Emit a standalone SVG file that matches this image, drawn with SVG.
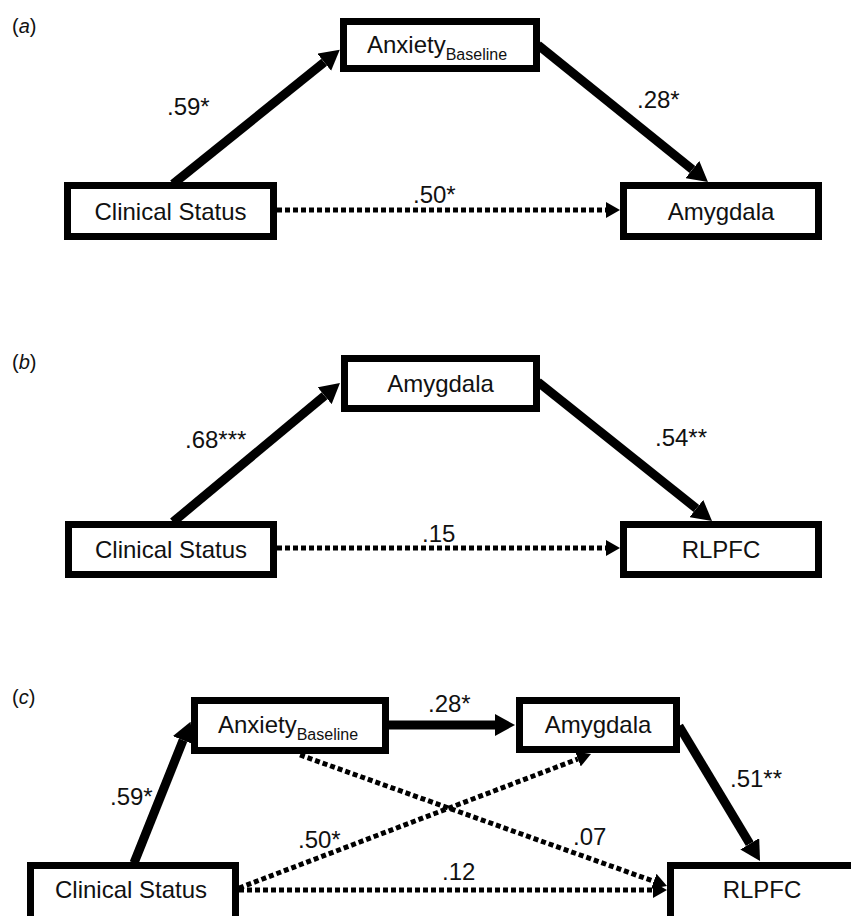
<svg xmlns="http://www.w3.org/2000/svg" width="851" height="916" viewBox="0 0 851 916">
<defs>
<style>
.box{fill:#fff;stroke:#000;stroke-width:7}
.t{font-family:"Liberation Sans",Arial,sans-serif;font-size:24px;fill:#111;text-anchor:middle}
.sub{font-size:16px}
.lbl{font-family:"Liberation Sans",Arial,sans-serif;font-size:24px;fill:#111}
.panel{font-family:"Liberation Sans",Arial,sans-serif;font-size:20px;fill:#111}
.solid{stroke:#000;stroke-width:9;fill:none;marker-end:url(#hs)}
.dot{stroke:#000;stroke-width:5;stroke-dasharray:5 3;fill:none;marker-end:url(#hd)}
</style>
<marker id="hs" markerUnits="userSpaceOnUse" markerWidth="20" markerHeight="22" refX="0" refY="11" orient="auto"><path d="M0,0 L20,11 L0,22 z" fill="#000"/></marker>
<marker id="hd" markerUnits="userSpaceOnUse" markerWidth="14" markerHeight="16" refX="0" refY="8" orient="auto"><path d="M0,0 L14,8 L0,16 z" fill="#000"/></marker>
</defs>
<rect width="851" height="916" fill="#fff"/>
<text class="panel" x="12" y="33">(<tspan font-style="italic">a</tspan>)</text>
<text class="panel" x="12" y="369">(<tspan font-style="italic">b</tspan>)</text>
<text class="panel" x="12" y="704">(<tspan font-style="italic">c</tspan>)</text>
<g id="connectors">
<line class="solid" x1="173" y1="184" x2="324.2" y2="62.3"/>
<line class="solid" x1="538" y1="45" x2="692.4" y2="169.5"/>
<line class="dot" x1="277" y1="210" x2="606" y2="210"/>
<line class="solid" x1="173" y1="522" x2="324.6" y2="395.7"/>
<line class="solid" x1="538" y1="382" x2="696.4" y2="508.5"/>
<line class="dot" x1="277" y1="548" x2="606" y2="548"/>
<line class="solid" x1="134" y1="863" x2="183.1" y2="740.2"/>
<line class="solid" x1="389" y1="725" x2="495" y2="725"/>
<line class="solid" x1="679" y1="726" x2="749.75" y2="843.8"/>
<line class="dot" x1="239" y1="890" x2="653" y2="890"/>
<line class="dot" x1="239" y1="888" x2="577.9" y2="759"/>
<line class="dot" x1="300" y1="755" x2="653.8" y2="881.3"/>
</g>
<g id="a-anxiety"><rect class="box" x="343.5" y="21.5" width="193" height="47"/><text class="t" x="437" y="53">Anxiety<tspan class="sub" dy="7">Baseline</tspan></text></g>
<g id="a-clinical"><rect class="box" x="67.5" y="185.5" width="206" height="51"/><text class="t" x="170.5" y="220">Clinical Status</text></g>
<g id="a-amygdala"><rect class="box" x="623.5" y="185.5" width="195" height="51"/><text class="t" x="721" y="220">Amygdala</text></g>
<g id="b-amygdala"><rect class="box" x="344.5" y="358.5" width="192" height="50"/><text class="t" x="440.5" y="392">Amygdala</text></g>
<g id="b-clinical"><rect class="box" x="68.5" y="524.5" width="205" height="50"/><text class="t" x="171" y="558">Clinical Status</text></g>
<g id="b-rlpfc"><rect class="box" x="623.5" y="524.5" width="195" height="50"/><text class="t" x="721" y="558">RLPFC</text></g>
<g id="c-anxiety"><rect class="box" x="194.5" y="700.5" width="191" height="50"/><text class="t" x="288" y="733">Anxiety<tspan class="sub" dy="7">Baseline</tspan></text></g>
<g id="c-amygdala"><rect class="box" x="519.5" y="700.5" width="157" height="49"/><text class="t" x="598" y="733">Amygdala</text></g>
<g id="c-clinical"><rect class="box" x="30.5" y="865.5" width="205" height="70"/><text class="t" x="131" y="898">Clinical Status</text></g>
<g id="c-rlpfc"><rect class="box" x="670.5" y="865.5" width="190" height="70"/><text class="t" x="762" y="898">RLPFC</text></g>
<g id="labels">
<text class="lbl" x="167" y="115">.59*</text>
<text class="lbl" x="637" y="108">.28*</text>
<text class="lbl" x="413" y="203">.50*</text>
<text class="lbl" x="185" y="448">.68***</text>
<text class="lbl" x="655" y="446">.54**</text>
<text class="lbl" x="422" y="542">.15</text>
<text class="lbl" x="110" y="805">.59*</text>
<text class="lbl" x="298" y="848">.50*</text>
<text class="lbl" x="428" y="712">.28*</text>
<text class="lbl" x="730" y="787">.51**</text>
<text class="lbl" x="573" y="845">.07</text>
<text class="lbl" x="442" y="880">.12</text>
</g>
</svg>
